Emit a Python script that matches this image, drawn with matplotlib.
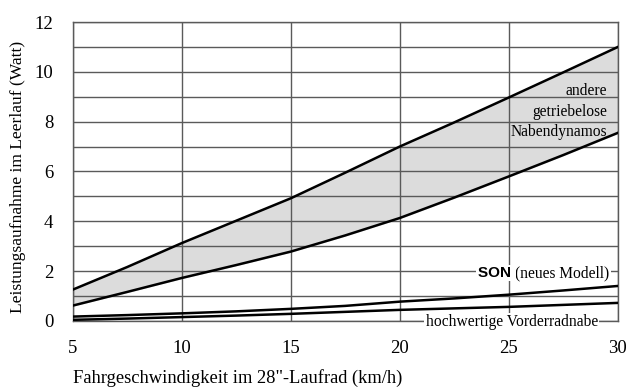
import matplotlib.pyplot as plt

speed = [5, 7.5, 10, 12.5, 15, 17.5, 20, 22.5, 25, 27.5, 30]
andere_oben = [1.25, 2.16, 3.12, 4.02, 4.92, 5.95, 7.0, 7.97, 8.97, 9.98, 11.0]
andere_unten = [0.61, 1.16, 1.72, 2.24, 2.78, 3.43, 4.13, 4.95, 5.8, 6.66, 7.55]
son_neu = [0.17, 0.23, 0.3, 0.38, 0.48, 0.6, 0.77, 0.9, 1.05, 1.22, 1.4]
vorderradnabe = [0.04, 0.09, 0.15, 0.21, 0.28, 0.36, 0.44, 0.5, 0.56, 0.64, 0.72]

xticks = [5, 10, 15, 20, 25, 30]
yticks = [0, 2, 4, 6, 8, 10, 12]

plt.rcParams['font.family'] = ['Liberation Serif', 'DejaVu Serif']

fig = plt.figure(figsize=(6.26, 3.87), dpi=100)
ax = fig.add_axes([0.116, 0.171, 0.871, 0.772])

# grey band = other hub dynamos
ax.fill_between(speed, andere_unten, andere_oben, color='#dcdcdc', zorder=1)
ax.plot(speed, andere_oben, color='black', lw=1.8, zorder=3)
ax.plot(speed, andere_unten, color='black', lw=1.8, zorder=3)
ax.plot(speed, son_neu, color='black', lw=1.8, zorder=3)
ax.plot(speed, vorderradnabe, color='black', lw=1.8, zorder=3)

ax.set_xlim(5, 30)
ax.set_ylim(0, 12)
ax.set_xticks(xticks)
ax.set_yticks(yticks)
ax.set_yticks(range(13), minor=True)
ax.grid(True, which='both', color='#5a5a5a', lw=1.0, zorder=2)
ax.set_axisbelow(False)
ax.tick_params(which='both', length=0, labelsize=13.5)
ax.tick_params(axis='x', pad=14)
ax.tick_params(axis='y', pad=14)
for s in ax.spines.values():
    s.set_color('#5a5a5a')
    s.set_linewidth(1.0)

ax.set_xlabel('Fahrgeschwindigkeit im 28"-Laufrad (km/h)', fontsize=13.3,
              ha='left', va='center')
ax.xaxis.set_label_coords(0.0, -0.19)
ax.set_ylabel('Leistungsaufnahme im Leerlauf (Watt)', fontsize=12.6)
ax.yaxis.set_label_coords(-0.085, 0.48)

ax.text(29.5, 9.22, 'andere', ha='right', va='center', fontsize=11.2, zorder=4)
ax.text(29.5, 8.38, 'getriebelose', ha='right', va='center', fontsize=11.2, zorder=4)
ax.text(29.5, 7.6, 'Nabendynamos', ha='right', va='center', fontsize=11.2, zorder=4)

modell = ax.text(29.6, 1.92, '(neues Modell)', ha='right', va='center', fontsize=11.2,
                 zorder=4, bbox=dict(facecolor='white', edgecolor='none', pad=1))
ax.annotate('SON ', xy=(0, 0.5), xycoords=modell, ha='right', va='center',
            fontsize=11, family=['Liberation Sans', 'DejaVu Sans'], fontweight='bold',
            zorder=4, bbox=dict(facecolor='white', edgecolor='none', pad=1))
ax.text(29.08, -0.05, 'hochwertige Vorderradnabe', ha='right', va='center',
        fontsize=11.2, zorder=4, clip_on=False,
        bbox=dict(facecolor='white', edgecolor='none', pad=1))

fig.savefig('out.png', dpi=100, facecolor='white')
